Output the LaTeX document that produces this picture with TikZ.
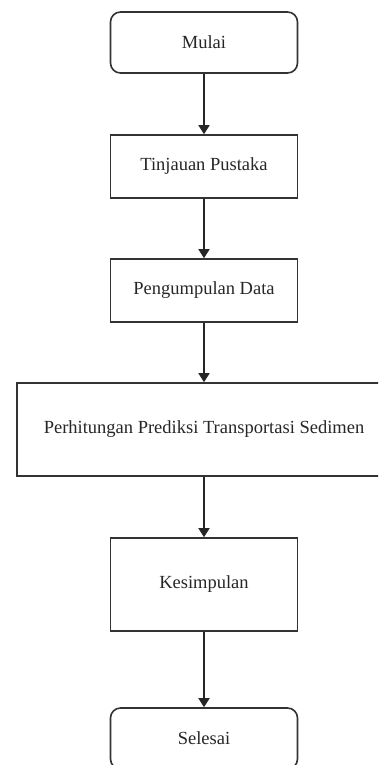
\documentclass[tikz,border=0pt]{standalone}
\usepackage{fontspec}
\setmainfont{Liberation Serif}
\usetikzlibrary{arrows.meta}
\tikzset{
  box/.style={draw=black!80, line width=1.6pt, minimum width=187pt, inner sep=0pt, font=\fontsize{18.5}{21}\selectfont, text=black!85},
  term/.style={box, rounded corners=10pt},
  flow/.style={draw=black!85, line width=1.6pt, -{Triangle[length=9pt,width=11pt]}}
}
\begin{document}
\begin{tikzpicture}[x=1pt,y=-1pt]
\useasboundingbox (0,0) rectangle (378,765);
\clip (0,0) rectangle (378,765);
\node[term, minimum height=61pt] (mulai) at (204,42.5) {Mulai};
\node[box, minimum height=63pt] (tinjauan) at (204,166.5) {Tinjauan Pustaka};
\node[box, minimum height=63pt] (data) at (204,290.5) {Pengumpulan Data};
\node[box, minimum height=93pt, minimum width=374pt] (hitung) at (204,429.5) {Perhitungan Prediksi Transportasi Sedimen};
\node[box, minimum height=93pt] (simpul) at (204,584.5) {Kesimpulan};
\node[term, minimum height=61pt] (selesai) at (204,738.5) {Selesai};
\draw[flow] (mulai) -- (tinjauan);
\draw[flow] (tinjauan) -- (data);
\draw[flow] (data) -- (hitung);
\draw[flow] (hitung) -- (simpul);
\draw[flow] (simpul) -- (selesai);
\end{tikzpicture}
\end{document}
